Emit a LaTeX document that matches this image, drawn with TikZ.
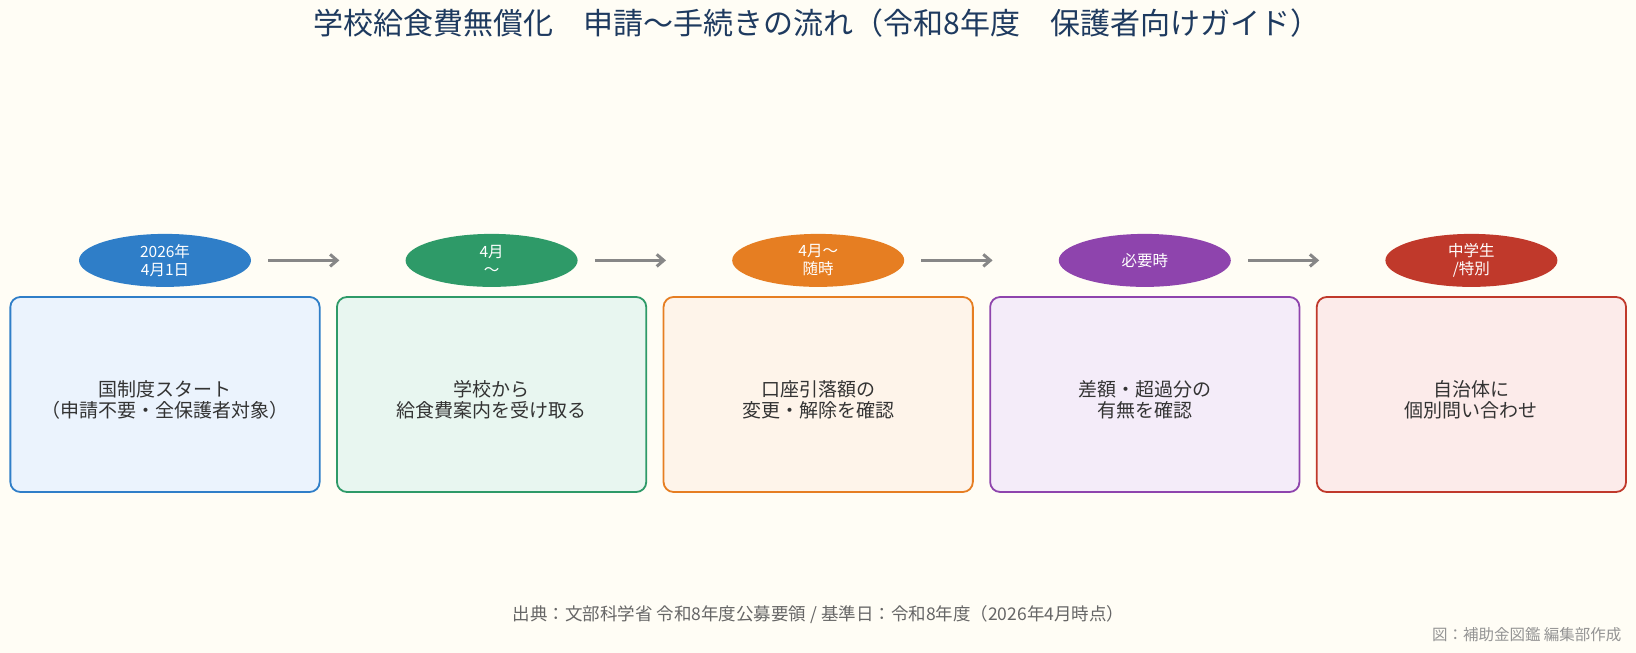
\documentclass[tikz,border=0pt]{standalone}
\usepackage{fontspec}
\setmainfont{Noto Sans CJK JP}
\usetikzlibrary{shapes.geometric, arrows.meta, positioning}

\definecolor{pagebg}{HTML}{FFFDF5}
\definecolor{titleblue}{HTML}{1E3A5F}
\definecolor{cblue}{HTML}{2F7EC8}
\definecolor{cgreen}{HTML}{2E9A68}
\definecolor{corange}{HTML}{E67E22}
\definecolor{cpurple}{HTML}{8E44AD}
\definecolor{cred}{HTML}{C0392B}
\definecolor{fblue}{HTML}{EBF3FD}
\definecolor{fgreen}{HTML}{E8F6F0}
\definecolor{forange}{HTML}{FEF4EA}
\definecolor{fpurple}{HTML}{F4ECF9}
\definecolor{fred}{HTML}{FCEBEA}

\begin{document}
\begin{tikzpicture}[
  x=1pt, y=1pt,
  node distance=15.5pt, % gap between neighbouring step boxes
  stepbox/.style={rectangle, rounded corners=10pt, line width=1.8pt, minimum width=309.3pt, minimum height=195pt, inner sep=0pt},
  boxtext/.style={yshift=-5.5pt, font=\fontsize{19}{20.5}\selectfont, text=black!80, align=center},
  when/.style={ellipse, minimum width=172pt, minimum height=53pt, inner sep=0pt, text=white, font=\fontsize{15.5}{18}\selectfont, align=center},
  flowarrow/.style={-{Straight Barb[length=7pt, width=12pt]}, line width=3pt, draw=black!47},
  note/.style={font=\fontsize{17.5}{20}\selectfont, text=black!60}
]

% page
\fill[pagebg] (0,0) rectangle (1636,653);

% title
\node[font=\fontsize{30}{34}\selectfont, text=titleblue] (title) at (817,630) {学校給食費無償化　申請〜手続きの流れ（令和8年度　保護者向けガイド）};

% step boxes
\node[stepbox, draw=cblue, fill=fblue, label={[boxtext]center:{国制度スタート\\（申請不要・全保護者対象）}}] (box1) at (165,258.5) {};
\node[stepbox, draw=cgreen, fill=fgreen, right=of box1, label={[boxtext]center:{学校から\\給食費案内を受け取る}}] (box2) {};
\node[stepbox, draw=corange, fill=forange, right=of box2, label={[boxtext]center:{口座引落額の\\変更・解除を確認}}] (box3) {};
\node[stepbox, draw=cpurple, fill=fpurple, right=of box3, label={[boxtext]center:{差額・超過分の\\有無を確認}}] (box4) {};
\node[stepbox, draw=cred, fill=fred, right=of box4, label={[boxtext]center:{自治体に\\個別問い合わせ}}] (box5) {};

% timing ovals
\node[when, fill=cblue, above=9pt of box1] (when1) {2026年\\4月1日};
\node[when, fill=cgreen, above=9pt of box2] (when2) {4月\\〜};
\node[when, fill=corange, above=9pt of box3] (when3) {4月〜\\随時};
\node[when, fill=cpurple, above=9pt of box4] (when4) {必要時};
\node[when, fill=cred, above=9pt of box5] (when5) {中学生\\/特別};

% arrows between ovals
\draw[flowarrow] ([xshift=17pt]when1.east) -- ([xshift=-66pt]when2.west);
\draw[flowarrow] ([xshift=17pt]when2.east) -- ([xshift=-66pt]when3.west);
\draw[flowarrow] ([xshift=17pt]when3.east) -- ([xshift=-66pt]when4.west);
\draw[flowarrow] ([xshift=17pt]when4.east) -- ([xshift=-66pt]when5.west);

% source and credit
\node[note] (source) at (818.5,38) {出典：文部科学省\ 令和8年度公募要領 / 基準日：令和8年度（2026年4月時点）};
\node[note, font=\fontsize{15.5}{18}\selectfont, text=black!42, anchor=east] (credit) at (1625,18) {図：補助金図鑑\ 編集部作成};

\end{tikzpicture}
\end{document}
